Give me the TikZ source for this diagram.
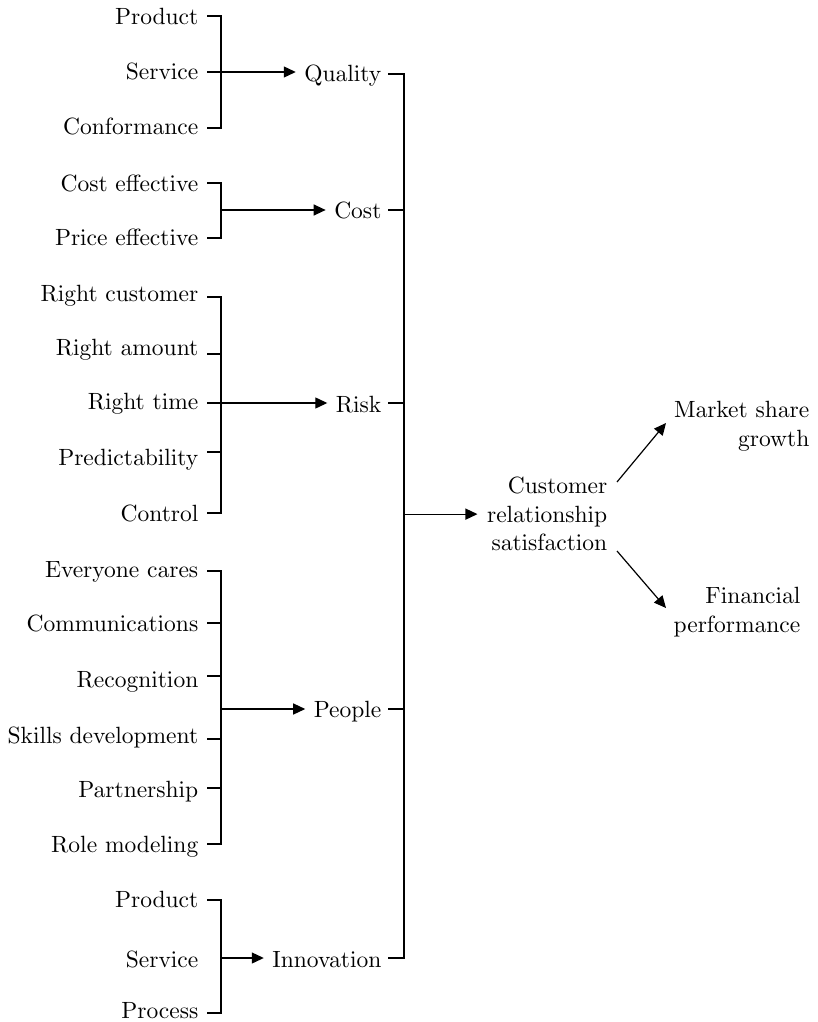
\documentclass[tikz,border=0pt]{standalone}
\usetikzlibrary{arrows.meta}
% text face: the 10pt design of Computer Modern, enlarged
\font\labelfont=cmr10 at 23.5pt
% leaf label: name, baseline y, tick y, text
\newcommand\leafnode[4]{%
  \node[leaf] (#1) at (199,#2) {#4};
  \coordinate (#1t) at ([shift={(8,#3-#2)}]#1.base east);}
% driver label: name, baseline y, tick y, text
\newcommand\drivernode[4]{%
  \node[leaf] (#1) at (382,#2) {#4};
  \coordinate (#1t) at ([shift={(6,#3-#2)}]#1.base east);}
\begin{document}
\begin{tikzpicture}[x=1pt,y=-1pt,
  line width=1.2pt,
  txt/.style={inner sep=0pt, font={\fontsize{23.5}{28.5}\selectfont\labelfont}},
  leaf/.style={txt, anchor=base east},
  arr/.style={-{Triangle[length=12pt,width=11pt]}},
]
\useasboundingbox (0,0) rectangle (817,1022);

\coordinate (bx) at (221,0);   % bracket line of the left groups
\coordinate (sx) at (404,0);   % spine joining the drivers

% ---- Quality
\leafnode{q1}{25}{16}{Product}
\leafnode{q2}{80}{72}{Service}
\leafnode{q3}{135}{128}{Conformance}
\drivernode{Q}{82}{74}{Quality}
\draw (q1t) -| (bx |- q3t) -- (q3t);
\draw[arr] (q2t) -- ([xshift=-8]Q.west |- q2t);

% ---- Cost
\leafnode{c1}{191}{183}{Cost effective}
\leafnode{c2}{245}{238}{Price effective}
\drivernode{C}{218}{210}{Cost}
\draw (c1t) -| (bx |- c2t) -- (c2t);
\draw[arr] (bx |- Ct) -- ([xshift=-8]C.west |- Ct);

% ---- Risk
\leafnode{r1}{301}{297}{Right customer}
\leafnode{r2}{355}{354}{Right amount}
\leafnode{r3}{409}{403}{Right time}
\leafnode{r4}{465}{452}{Predictability}
\leafnode{r5}{521}{513}{Control}
\drivernode{R}{412}{403}{Risk}
\draw (r1t) -| (bx |- r5t) -- (r5t);
\draw (r2t) -- (bx |- r2t);
\draw (r4t) -- (bx |- r4t);
\draw[arr] (r3t) -- ([xshift=-8]R.west |- r3t);

% ---- People
\leafnode{p1}{577}{571}{Everyone cares}
\leafnode{p2}{631}{623}{Communications}
\leafnode{p3}{687}{676}{Recognition}
\leafnode{p4}{743}{739}{Skills development}
\leafnode{p5}{797}{788}{Partnership}
\leafnode{p6}{852}{844}{Role modeling}
\drivernode{P}{717}{709}{People}
\draw (p1t) -| (bx |- p6t) -- (p6t);
\foreach \n in {p2,p3,p4,p5} \draw (\n t) -- (bx |- \n t);
\draw[arr] (bx |- Pt) -- ([xshift=-8]P.west |- Pt);

% ---- Innovation
\leafnode{i1}{907}{900}{Product}
\leafnode{i2}{967}{958}{Service}
\leafnode{i3}{1018}{1013}{Process}
\drivernode{I}{967}{958}{Innovation}
\draw (i1t) -| (bx |- i3t) -- (i3t);
\draw[arr] (bx |- It) -- ([xshift=-8]I.west |- It);

% ---- spine and driver ticks
\draw (Qt) -| (sx |- It) -- (It);
\foreach \n in {C,R,P} \draw (\n t) -- (sx |- \n t);

% ---- outcomes
\node[txt, align=right, anchor=north east] (crs) at (608,477)
  {Customer\\relationship\\satisfaction};
\node[txt, align=right, anchor=north east] (msg) at (810,401)
  {Market share\\growth};
\node[txt, align=right, anchor=north east] (fin) at (801,587)
  {Financial\\performance};

\draw[arr] (sx |- crs.west) -- ([xshift=-9]crs.west);
\draw[arr] ([shift={(9,5)}]crs.north east) -- ([shift={(-144,22)}]msg.north east);
\draw[arr] ([shift={(9,74)}]crs.north east) -- ([shift={(-135,21)}]fin.north east);
\end{tikzpicture}
\end{document}
